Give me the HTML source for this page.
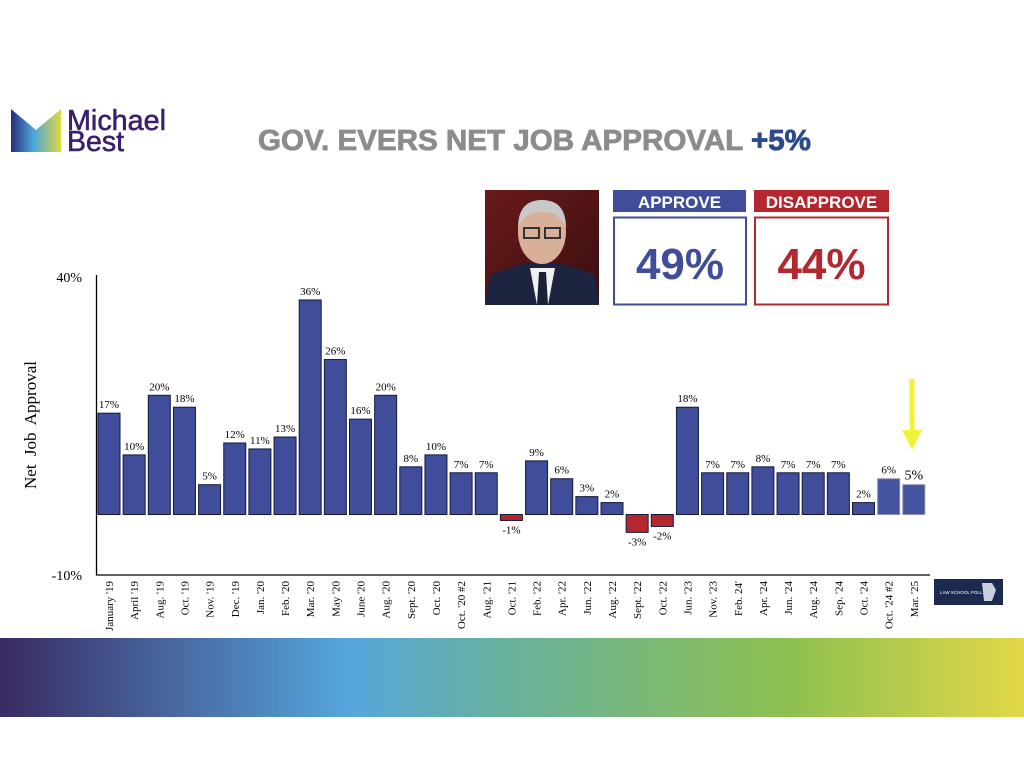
<!DOCTYPE html>
<html><head><meta charset="utf-8"><style>
html,body{margin:0;padding:0;background:#fff;width:1024px;height:768px;overflow:hidden}
svg{display:block}
</style></head><body>
<svg id="chart" width="1024" height="768" viewBox="0 0 1024 768" xmlns="http://www.w3.org/2000/svg">
<defs>
<linearGradient id="band" x1="0" x2="1" y1="0" y2="0">
<stop offset="0" stop-color="#3a2a62"/><stop offset="0.34" stop-color="#56a6de"/><stop offset="0.48" stop-color="#66b0a2"/><stop offset="0.77" stop-color="#8dc050"/><stop offset="1" stop-color="#e2d848"/>
</linearGradient>
<linearGradient id="logoG" x1="0" x2="1" y1="0" y2="0">
<stop offset="0" stop-color="#2e2a7a"/><stop offset="0.45" stop-color="#4aa8dc"/><stop offset="1" stop-color="#e2d840"/>
</linearGradient>
<linearGradient id="photoBg" x1="0" x2="1" y1="0" y2="1">
<stop offset="0" stop-color="#6a1a1a"/><stop offset="1" stop-color="#3a0e10"/>
</linearGradient>
</defs>
<g>
<polygon points="11,109 36,130 61,109 61,152 11,152" fill="url(#logoG)"/>
<text x="67" y="130" font-family="Liberation Sans, sans-serif" font-size="29" fill="#3b1f6e" stroke="#3b1f6e" stroke-width="0.6" textLength="99" lengthAdjust="spacingAndGlyphs">Michael</text>
<text x="67" y="151" font-family="Liberation Sans, sans-serif" font-size="29" fill="#3b1f6e" stroke="#3b1f6e" stroke-width="0.6" textLength="57" lengthAdjust="spacingAndGlyphs">Best</text>
</g>
<text x="258" y="150" font-family="Liberation Sans, sans-serif" font-weight="bold" font-size="29" fill="#8c8c8c" stroke="#8c8c8c" stroke-width="0.8" textLength="553" lengthAdjust="spacingAndGlyphs">GOV. EVERS NET JOB APPROVAL <tspan fill="#2a4a8a" stroke="#2a4a8a">+5%</tspan></text>
<g>
<rect x="485" y="190" width="114" height="115" fill="url(#photoBg)"/>
<path d="M485,305 L490,275 Q520,262 542,262 Q565,262 595,275 L599,305Z" fill="#1c2440"/>
<polygon points="530,268 555,268 548,305 537,305" fill="#f0f0f0"/>
<polygon points="539,272 546,272 548,305 537,305" fill="#1a2035"/>
<ellipse cx="542" cy="232" rx="24" ry="32" fill="#d8b09a"/>
<path d="M518,228 Q518,200 542,200 Q566,200 566,228 Q560,212 542,212 Q524,212 518,228Z" fill="#c8c8c8"/>
<rect x="524" y="228" width="15" height="10" fill="none" stroke="#333" stroke-width="2"/>
<rect x="545" y="228" width="15" height="10" fill="none" stroke="#333" stroke-width="2"/>
</g>
<g>
<rect x="613" y="190" width="133" height="22" fill="#3f4d9a"/>
<text x="679.5" y="208" text-anchor="middle" font-family="Liberation Sans, sans-serif" font-weight="bold" font-size="17" fill="#fff">APPROVE</text>
<rect x="614" y="217.5" width="132" height="87" fill="#fff" stroke="#3f4d9a" stroke-width="2"/>
<text x="680" y="279" text-anchor="middle" font-family="Liberation Sans, sans-serif" font-weight="bold" font-size="44" fill="#3f4d9a">49%</text>
</g>
<g>
<rect x="754" y="190" width="135" height="22" fill="#b5272f"/>
<text x="821.5" y="208" text-anchor="middle" font-family="Liberation Sans, sans-serif" font-weight="bold" font-size="17" fill="#fff">DISAPPROVE</text>
<rect x="755" y="217.5" width="133" height="87" fill="#fff" stroke="#b5272f" stroke-width="2"/>
<text x="821.5" y="279" text-anchor="middle" font-family="Liberation Sans, sans-serif" font-weight="bold" font-size="44" fill="#b5272f">44%</text>
</g>
<text transform="translate(36,425) rotate(-90)" text-anchor="middle" font-family="Liberation Serif, serif" font-size="17" word-spacing="4">Net Job Approval</text>
<text x="82" y="282" text-anchor="end" font-family="Liberation Serif, serif" font-size="14">40%</text>
<text x="82" y="580" text-anchor="end" font-family="Liberation Serif, serif" font-size="14">-10%</text>
<g id="bars"></g>
<line x1="96.5" y1="275" x2="96.5" y2="575" stroke="#000" stroke-width="1.3"/>
<line x1="96" y1="575" x2="930" y2="575" stroke="#000" stroke-width="1.3"/>
<g>
<rect x="909.5" y="379" width="5" height="52" fill="#f2f23a"/>
<polygon points="902,430 922,430 912,450" fill="#f2f23a"/>
</g>
<g>
<rect x="934" y="579" width="69" height="26" fill="#1b2a4e"/>
<text x="940" y="594" font-family="Liberation Sans, sans-serif" font-size="4.5" fill="#fff">LAW SCHOOL POLL</text>
<polygon points="982,583 992,583 996,590 992,601 984,601" fill="#c8d0e0"/>
</g>
<rect x="0" y="638" width="1024" height="79" fill="url(#band)"/>
</svg>
<script>
const categories=["January '19","April '19","Aug. '19","Oct. '19","Nov. '19","Dec. '19","Jan. '20","Feb. '20","Mar. '20","May '20","June '20","Aug. '20","Sept. '20","Oct. '20","Oct. '20 #2","Aug. '21","Oct. '21","Feb. '22","Apr. '22","Jun. '22","Aug. '22","Sept. '22","Oct. '22","Jun. '23","Nov. '23","Feb. 24'","Apr. '24","Jun. '24","Aug. '24","Sep. '24","Oct. '24","Oct. '24 #2","Mar. '25"];
const netApproval=[17,10,20,18,5,12,11,13,36,26,16,20,8,10,7,7,-1,9,6,3,2,-3,-2,18,7,7,8,7,7,7,2,6,5];
const NS="http://www.w3.org/2000/svg";
const y0=514.5, pxPer=5.96, xStart=109, step=25.15, bw=22;
const yScale=v=>y0-v*pxPer;
const xScale=i=>xStart+i*step;
const g=document.getElementById('bars');
netApproval.forEach((v,i)=>{
  const cx=xScale(i);
  const top=Math.min(yScale(v),y0), h=Math.abs(yScale(v)-y0);
  const last=i>=netApproval.length-2;
  const r=document.createElementNS(NS,'rect');
  r.setAttribute('x',cx-bw/2);r.setAttribute('y',top);r.setAttribute('width',bw);r.setAttribute('height',h);
  r.setAttribute('fill',v<0?'#b5272f':(last?'#4453a0':'#3f4d9a'));
  r.setAttribute('stroke',last?'#8a8fa8':'#141a3a');r.setAttribute('stroke-width','1');
  
  
  g.appendChild(r);
  const t=document.createElementNS(NS,'text');
  t.setAttribute('x',cx);
  t.setAttribute('y',v<0?yScale(v)+13:yScale(v)-5);
  t.setAttribute('text-anchor','middle');
  t.setAttribute('font-family','Liberation Serif, serif');
  t.setAttribute('font-size',i===netApproval.length-1?'14':'11');
  t.textContent=v+'%';
  
  
  g.appendChild(t);
  const c=document.createElementNS(NS,'text');
  c.setAttribute('transform','translate('+(cx+4)+',581) rotate(-90)');
  c.setAttribute('text-anchor','end');
  c.setAttribute('font-family','Liberation Serif, serif');
  c.setAttribute('font-size','11');
  c.textContent=categories[i];
  
  
  g.appendChild(c);
});
</script>
</body></html>
